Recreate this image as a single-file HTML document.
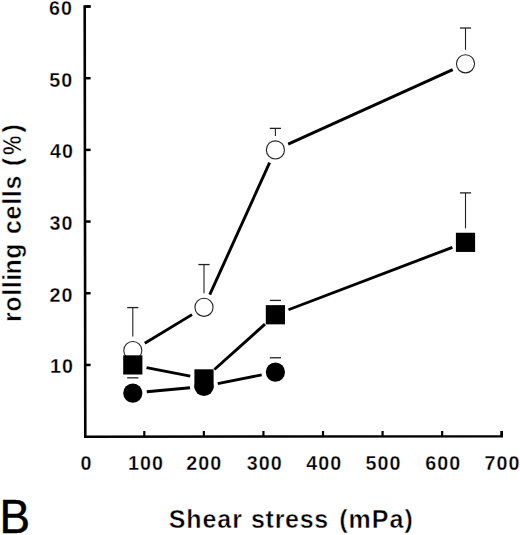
<!DOCTYPE html>
<html><head><meta charset="utf-8"><style>
html,body{margin:0;padding:0;background:#fff;}
body{width:520px;height:535px;overflow:hidden;}
svg{display:block;}
.t{font-family:"Liberation Sans",sans-serif;font-weight:bold;font-size:19.7px;letter-spacing:1.05px;fill:#000;stroke:#fff;stroke-width:0.3px;}
.ti{font-family:"Liberation Sans",sans-serif;font-weight:bold;font-size:25px;letter-spacing:0.9px;fill:#000;stroke:#fff;stroke-width:0.45px;}
.b{font-family:"Liberation Sans",sans-serif;font-weight:normal;font-size:47.5px;fill:#000;stroke:#000;stroke-width:0.5px;}
</style></head><body>
<svg width="520" height="535" viewBox="0 0 520 535">
<path d="M90.6 6.52 H84.7 L85.3 436.70000000000005 L501.72 436.20000000000005 V431.0" fill="none" stroke="#000" stroke-width="2.6" stroke-linejoin="miter"/>
<line x1="84.7" y1="364.92" x2="90.6" y2="364.92" stroke="#000" stroke-width="2.5"/>
<line x1="84.7" y1="293.24" x2="90.6" y2="293.24" stroke="#000" stroke-width="2.5"/>
<line x1="84.7" y1="221.56" x2="90.6" y2="221.56" stroke="#000" stroke-width="2.5"/>
<line x1="84.7" y1="149.88" x2="90.6" y2="149.88" stroke="#000" stroke-width="2.5"/>
<line x1="84.7" y1="78.20" x2="90.6" y2="78.20" stroke="#000" stroke-width="2.5"/>
<line x1="84.7" y1="6.52" x2="90.6" y2="6.52" stroke="#000" stroke-width="2.5"/>
<line x1="144.30" y1="436.6" x2="144.30" y2="431.0" stroke="#000" stroke-width="2.2"/>
<line x1="203.87" y1="436.6" x2="203.87" y2="431.0" stroke="#000" stroke-width="2.2"/>
<line x1="263.44" y1="436.6" x2="263.44" y2="431.0" stroke="#000" stroke-width="2.2"/>
<line x1="323.01" y1="436.6" x2="323.01" y2="431.0" stroke="#000" stroke-width="2.2"/>
<line x1="382.58" y1="436.6" x2="382.58" y2="431.0" stroke="#000" stroke-width="2.2"/>
<line x1="442.15" y1="436.6" x2="442.15" y2="431.0" stroke="#000" stroke-width="2.2"/>
<line x1="501.72" y1="436.6" x2="501.72" y2="431.0" stroke="#000" stroke-width="2.2"/>
<text x="50.10" y="373.42" class="t">10</text>
<text x="49.60" y="301.74" class="t">20</text>
<text x="49.60" y="230.06" class="t">30</text>
<text x="50.10" y="158.38" class="t">40</text>
<text x="49.30" y="86.70" class="t">50</text>
<text x="49.10" y="15.02" class="t">60</text>
<text x="80.53" y="470.00" class="t">0</text>
<text x="128.10" y="470.00" class="t">100</text>
<text x="186.37" y="470.00" class="t">200</text>
<text x="246.74" y="470.00" class="t">300</text>
<text x="306.31" y="470.00" class="t">400</text>
<text x="365.48" y="470.00" class="t">500</text>
<text x="425.35" y="470.00" class="t">600</text>
<text x="484.62" y="470.00" class="t">700</text>
<line x1="144.77" y1="343.32" x2="192.03" y2="314.63" stroke="#000" stroke-width="2.9"/>
<line x1="209.78" y1="294.61" x2="269.62" y2="162.63" stroke="#000" stroke-width="2.9"/>
<line x1="288.16" y1="144.11" x2="452.74" y2="69.64" stroke="#000" stroke-width="2.9"/>
<line x1="146.54" y1="367.62" x2="190.26" y2="376.20" stroke="#000" stroke-width="2.9"/>
<line x1="214.41" y1="369.54" x2="264.99" y2="324.10" stroke="#000" stroke-width="2.9"/>
<line x1="288.48" y1="309.76" x2="452.42" y2="247.33" stroke="#000" stroke-width="2.9"/>
<line x1="146.74" y1="391.79" x2="190.06" y2="387.73" stroke="#000" stroke-width="2.9"/>
<line x1="217.73" y1="383.67" x2="261.67" y2="374.84" stroke="#000" stroke-width="2.9"/>
<line x1="132.8" y1="307.58" x2="132.8" y2="336.58" stroke="#222" stroke-width="1.1"/>
<line x1="127.20" y1="307.58" x2="138.40" y2="307.58" stroke="#222" stroke-width="1.3"/>
<line x1="204.0" y1="264.57" x2="204.0" y2="293.36" stroke="#222" stroke-width="1.1"/>
<line x1="198.40" y1="264.57" x2="209.60" y2="264.57" stroke="#222" stroke-width="1.3"/>
<line x1="275.4" y1="128.38" x2="275.4" y2="135.88" stroke="#222" stroke-width="1.1"/>
<line x1="269.80" y1="128.38" x2="281.00" y2="128.38" stroke="#222" stroke-width="1.3"/>
<line x1="465.5" y1="28.02" x2="465.5" y2="49.86" stroke="#222" stroke-width="1.1"/>
<line x1="459.90" y1="28.02" x2="471.10" y2="28.02" stroke="#222" stroke-width="1.3"/>
<line x1="127.20" y1="377.82" x2="138.40" y2="377.82" stroke="#222" stroke-width="1.3"/>
<line x1="275.4" y1="300.41" x2="275.4" y2="300.74" stroke="#222" stroke-width="1.1"/>
<line x1="269.80" y1="300.41" x2="281.00" y2="300.41" stroke="#222" stroke-width="1.3"/>
<line x1="465.5" y1="192.89" x2="465.5" y2="228.35" stroke="#222" stroke-width="1.1"/>
<line x1="459.90" y1="192.89" x2="471.10" y2="192.89" stroke="#222" stroke-width="1.3"/>
<line x1="275.4" y1="357.75" x2="275.4" y2="358.09" stroke="#222" stroke-width="1.1"/>
<line x1="269.80" y1="357.75" x2="281.00" y2="357.75" stroke="#222" stroke-width="1.3"/>
<circle cx="132.8" cy="393.09" r="9.6" fill="#000"/>
<circle cx="204.0" cy="386.42" r="9.6" fill="#000"/>
<circle cx="275.4" cy="372.09" r="9.6" fill="#000"/>
<circle cx="132.8" cy="350.58" r="9.049999999999999" fill="#fff" stroke="#222" stroke-width="1.1"/>
<circle cx="204.0" cy="307.36" r="9.049999999999999" fill="#fff" stroke="#222" stroke-width="1.1"/>
<circle cx="275.4" cy="149.88" r="9.049999999999999" fill="#fff" stroke="#222" stroke-width="1.1"/>
<circle cx="465.5" cy="63.86" r="9.049999999999999" fill="#fff" stroke="#222" stroke-width="1.1"/>
<rect x="123.20" y="355.32" width="19.2" height="19.2" fill="#000"/>
<rect x="194.40" y="369.30" width="19.2" height="19.2" fill="#000"/>
<rect x="265.80" y="305.14" width="19.2" height="19.2" fill="#000"/>
<rect x="455.90" y="232.75" width="19.2" height="19.2" fill="#000"/>
<g transform="translate(20.8 0) rotate(-90)">
<text x="-322.00" y="0" class="ti" style="letter-spacing:0.6px">rolli</text>
<text x="-274.60" y="0" class="ti" style="letter-spacing:0.6px">ng</text>
<text x="-234.00" y="0" class="ti" style="letter-spacing:0.7px">cells</text>
<text x="-166.00" y="0" class="ti">(</text>
<text x="-178.16" y="0" class="ti" transform="scale(0.87 1)">%</text>
<text x="-132.50" y="0" class="ti">)</text>
</g>
<text x="168.8" y="528.0" class="ti">Shear</text>
<text x="251.0" y="528.0" class="ti" style="letter-spacing:0.7px">stress</text>
<text x="339.3" y="528.0" class="ti" style="letter-spacing:1.0px">(mPa)</text>
<text transform="translate(-0.5 532.5) scale(0.965 1)" class="b">B</text>
</svg>
</body></html>
